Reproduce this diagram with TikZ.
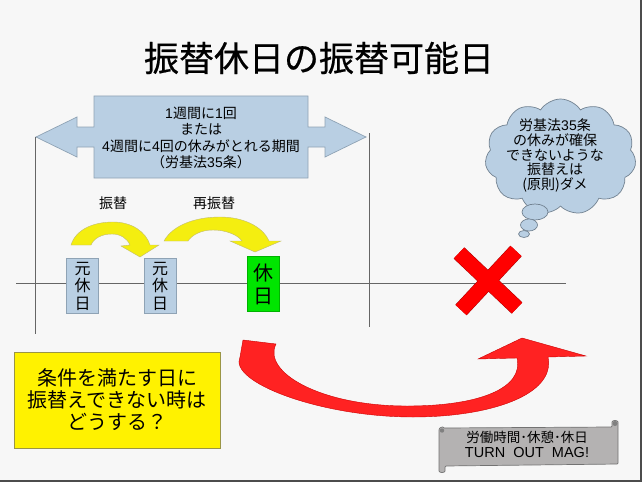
\documentclass[tikz,border=0pt]{standalone}
\usepackage{fontspec}
\usepackage{xcolor}
\setmainfont{Noto Sans CJK JP}
\newfontfamily\latfont{Liberation Sans}
\newfontfamily\titlefont[FakeBold=0.5]{Noto Sans CJK JP}
\usetikzlibrary{shapes,shapes.symbols,positioning,calc}
\definecolor{paleblue}{HTML}{B9CFE3}
\definecolor{edgeblue}{HTML}{8FA3B5}
\definecolor{scrollgray}{HTML}{B4B2B2}
\definecolor{arrowred}{HTML}{FF2222}
\definecolor{swapyellow}{HTML}{F4EE10}
\newcommand{\pxfont}[2]{\fontsize{#1}{#2}\selectfont}
\newcommand{\lat}[1]{{\latfont #1}}
\tikzset{
  timeline/.style = {draw=black!60, line width=0.9pt},
  daybox/.style = {draw=edgeblue, fill=paleblue, line width=0.7pt, align=center,
    inner sep=0pt, minimum width=32pt, minimum height=55pt, font=\pxfont{16}{17.5}},
  restbox/.style = {draw=green!70!black, fill=green!90!black, line width=0.7pt, align=center,
    inner sep=0pt, minimum width=32pt, minimum height=55pt, font=\pxfont{20}{23}},
  swaparrow/.style = {draw=yellow!60!black!70, fill=swapyellow, line width=0.4pt},
  redarrow/.style = {draw=red!80!black, fill=arrowred, line width=0.4pt},
  caption/.style = {align=center, inner sep=0pt, font=\pxfont{14}{16}},
  puff/.style = {ellipse, draw=edgeblue!80!black, fill=paleblue, line width=0.7pt, inner sep=0pt}
}
\begin{document}
\begin{tikzpicture}[x=1pt, y=-1pt]
\useasboundingbox (0,0) rectangle (644,484);
\fill[white] (0,0) rectangle (644,484);
\fill[black!70] (0,0) rectangle (642,482);
\fill[white!97!black] (0,0) rectangle (640,480);

\node[inner sep=0pt, font=\titlefont\pxfont{35}{40}] (title) at (319,58) {振替休日の振替可能日};

% period arrow
\draw[draw=edgeblue, fill=paleblue, line width=0.7pt] (94,96) -- (308,96) -- (308,127) -- (325,127)
  -- (325,117) -- (366,137) -- (325,157) -- (325,147) -- (308,147) -- (308,178) -- (94,178)
  -- (94,147) -- (77,147) -- (77,157) -- (36,137) -- (77,117) -- (77,127) -- (94,127) -- cycle;
\node[caption, font=\pxfont{14}{16.3}] (period) at (201,138)
  {\lat{1}週間に\lat{1}回\\または\\\lat{4}週間に\lat{4}回の休みがとれる期間\\（労基法\lat{35}条）};

% time line
\coordinate (lineL) at (16,283);
\coordinate (lineR) at (566,283);
\coordinate (leftT) at (35,137);
\coordinate (leftB) at (35,334);
\coordinate (rightT) at (369,133);
\coordinate (rightB) at (369,327);
\draw[timeline] (lineL) -- (lineR);
\draw[timeline] (leftT) -- (leftB);
\draw[timeline] (rightT) -- (rightB);

\node[daybox] (day1) at (82.5,286) {元\\休\\日};
\node[daybox] (day2) at (160,286) {元\\休\\日};
\node[restbox] (day3) at (263,284) {休\\日};

\node[caption] (swap1) at (113,203) {振替};
\node[caption] (swap2) at (214,203) {再振替};

% yellow arrows
\draw[swaparrow] (71,245) .. controls (76,229) and (94,222) .. (113,222)
  .. controls (132,222) and (146,232) .. (150,245) -- (159,245) -- (140,257) -- (121,246) -- (130,245)
  .. controls (127,238) and (120,234) .. (112,234) .. controls (102,234) and (94,238) .. (91,245) -- cycle;
\draw[swaparrow] (164,241) .. controls (172,226) and (194,217) .. (220,217)
  .. controls (244,217) and (263,227) .. (269,241) -- (281,241) -- (255,252) -- (230,241) -- (242,241)
  .. controls (238,235) and (226,230) .. (213,230) .. controls (201,230) and (192,235) .. (188,241) -- cycle;

% cross
\draw[draw=red!65!black, line width=15.5pt] (459,253) -- (517,308);
\draw[draw=red!65!black, line width=15.5pt] (516,251) -- (461,310);
\draw[draw=red, line width=14.5pt] (459,253) -- (517,308);
\draw[draw=red, line width=14.5pt] (516,251) -- (461,310);

% thought bubble
\node[cloud, cloud puffs=11, cloud puff arc=115, aspect=1.4, draw=edgeblue!80!black, fill=paleblue,
  line width=0.7pt, inner sep=0pt, minimum width=151pt, minimum height=116pt] (cloud) at (560.5,157) {};
\node[caption, font=\pxfont{14}{14.7}] (cloudtext) at (555,155.5)
  {労基法\lat{35}条\\の休みが確保\\できないような\\振替えは\\(原則)ダメ};
\node[puff, minimum width=26pt, minimum height=16pt] (puffA) at (535,212) {};
\node[puff, minimum width=17pt, minimum height=12pt] (puffB) at (529,225) {};
\node[puff, minimum width=11pt, minimum height=7pt] (puffC) at (524,234) {};

% red arrow
\draw[redarrow] (243,340) -- (276,344) .. controls (262,372) and (320,406) .. (407,406)
  .. controls (480,406) and (524,388) .. (517,358) -- (478,359) -- (522,338) -- (586,356) -- (548,357)
  .. controls (556,395) and (490,417) .. (413,417) .. controls (320,417) and (228,382) .. (240,357) -- cycle;

% yellow box
\node[draw=yellow!55!black, fill=yellow, line width=0.8pt, align=center, inner sep=0pt,
  minimum width=206pt, minimum height=96pt, font=\pxfont{20}{22}] (question) at (117,400)
  {条件を満たす日に\\振替えできない時は\\どうする？};

% scroll
\draw[draw=black!55, fill=scrollgray, line width=0.7pt, rounded corners=1pt] (443,428) -- (612,427) -- (612,423)
  .. controls (612,420) and (618,420) .. (618,423) -- (618,464)
  -- (445,466) -- (445,470) .. controls (445,473) and (439,473) .. (439,470) -- (439,431)
  .. controls (439,427) and (443,427) .. (443,428) -- cycle;
\fill[black!50] (615,423.5) circle (2.5pt);
\fill[black!50] (442,430.5) circle (2.2pt);
\node[caption, font=\pxfont{13.5}{15}] (scrolltext) at (527,444.5)
  {労働時間･休憩･休日\\{\pxfont{14.5}{15}\lat{TURN\ \ OUT\ \ MAG!}}};
\end{tikzpicture}
\end{document}
